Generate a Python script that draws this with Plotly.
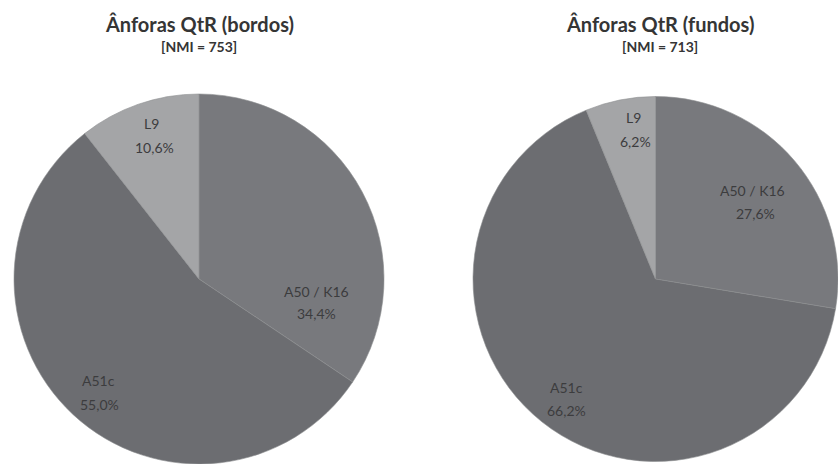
import plotly.graph_objects as go

# Amphora type shares (%) for rims and bases
categories = ["A50 / K16", "A51c", "L9"]
bordos_pct = [34.4, 55.0, 10.6]
fundos_pct = [27.6, 66.2, 6.2]
bordos_nmi = 753
fundos_nmi = 713

slice_colors = ["#78797d", "#6c6d71", "#a4a5a7"]

W, H = 838, 464

# Label anchor points in pixels (name line, percent line) for each slice
bordos_label_px = [((316, 291), (316, 313)), ((98, 380), (99, 404)), ((151, 123), (154, 147))]
fundos_label_px = [((752, 190), (755, 213)), ((566, 387), (566, 410)), ((633, 118), (635, 141))]

label_font = dict(family="Lato, Carlito, sans-serif", size=14, color="#3c3c3e")


def pct_text(values):
    return [f"{v:.1f}".replace(".", ",") + "%" for v in values]


def make_pie(values, x0, x1, y_top):
    return go.Pie(
        labels=categories,
        values=values,
        text=pct_text(values),
        textinfo="none",
        sort=False,
        direction="clockwise",
        rotation=0,
        marker=dict(colors=slice_colors, line=dict(color="#8d8e91", width=0.6)),
        domain=dict(x=[x0 / W, x1 / W], y=[0, 1 - y_top / H]),
        showlegend=False,
        hoverinfo="label+text",
    )


def add_slice_labels(fig, values, positions):
    for name, pct, (p_name, p_pct) in zip(categories, pct_text(values), positions):
        for (px, py), txt in ((p_name, name), (p_pct, pct)):
            fig.add_annotation(x=px / W, y=1 - py / H, xref="paper", yref="paper",
                               text=txt, showarrow=False, font=label_font,
                               xanchor="center", yanchor="middle")


fig = go.Figure()
fig.add_trace(make_pie(bordos_pct, 14, 384, 94))
fig.add_trace(make_pie(fundos_pct, 473, 838, 94))
add_slice_labels(fig, bordos_pct, bordos_label_px)
add_slice_labels(fig, fundos_pct, fundos_label_px)

title_font = dict(family="Lato, Carlito, sans-serif", size=20, color="#353535")
sub_font = dict(family="Lato, Carlito, sans-serif", size=14, color="#353535")

for cx, name, nmi in [(199, "Ânforas QtR (bordos)", bordos_nmi),
                      (660, "Ânforas QtR (fundos)", fundos_nmi)]:
    fig.add_annotation(x=cx / W, y=1 - 24 / H, xref="paper", yref="paper",
                       text=f"<b>{name}</b>", showarrow=False, font=title_font,
                       xanchor="center", yanchor="middle")
    fig.add_annotation(x=cx / W, y=1 - 47 / H, xref="paper", yref="paper",
                       text=f"<b>[NMI = {nmi}]</b>", showarrow=False, font=sub_font,
                       xanchor="center", yanchor="middle")

fig.update_layout(
    width=W, height=H,
    margin=dict(l=0, r=0, t=0, b=0),
    paper_bgcolor="white",
    plot_bgcolor="white",
)

fig.write_html("out.html")
